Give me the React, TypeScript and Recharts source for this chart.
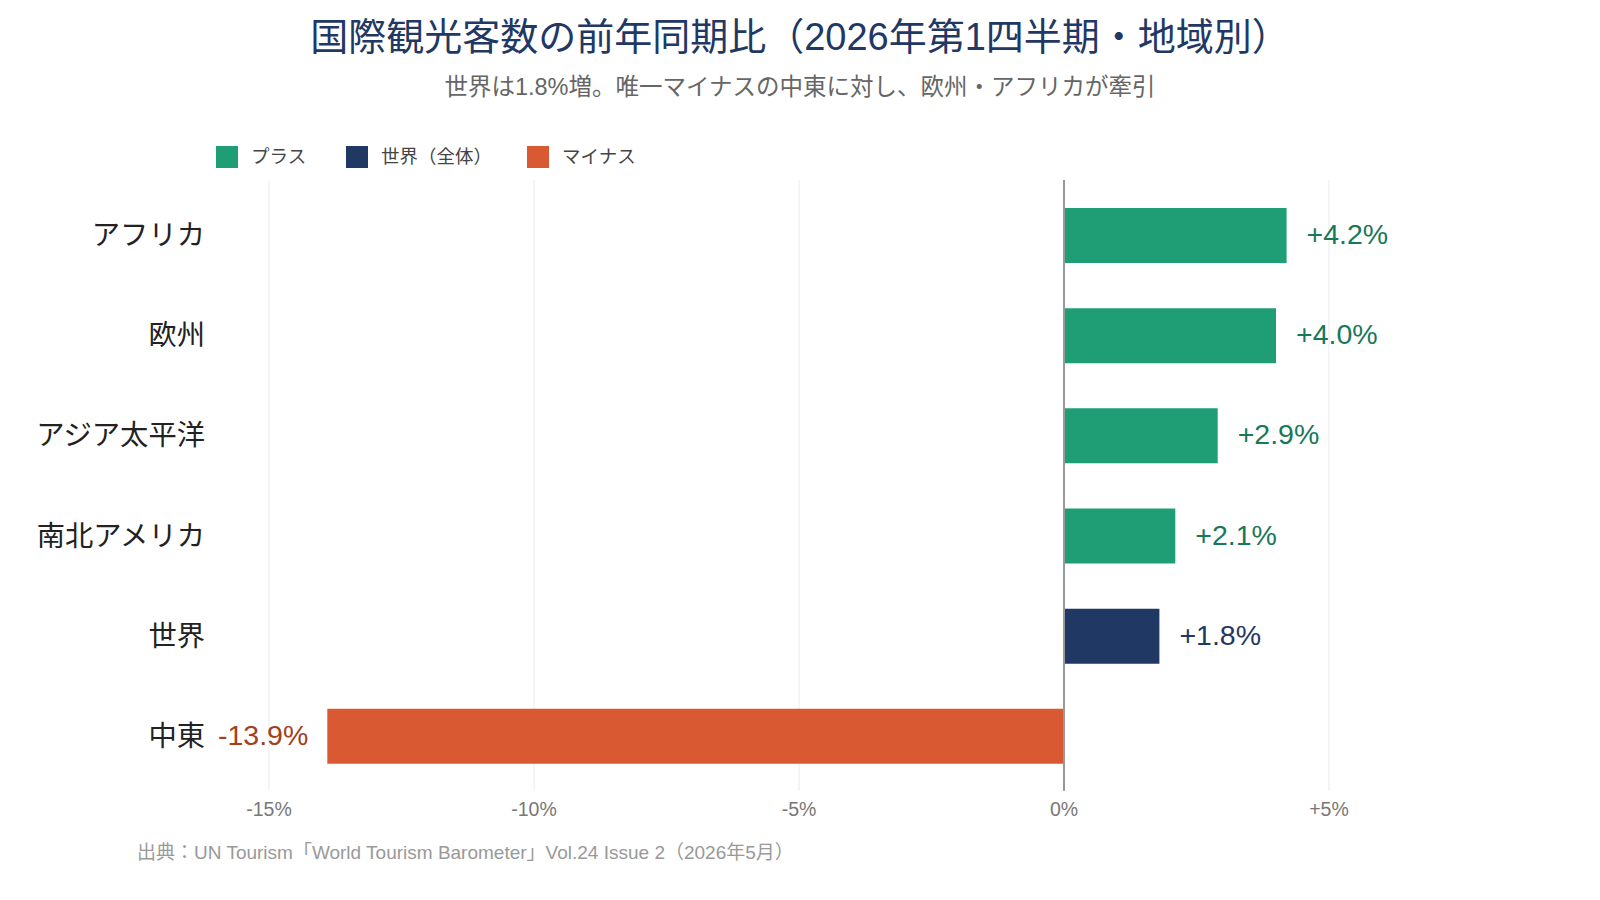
import { Bar, BarChart, CartesianGrid, Cell, LabelList, ReferenceLine, XAxis, YAxis } from "recharts";

const regions = ["アフリカ", "欧州", "アジア太平洋", "南北アメリカ", "世界", "中東"];
const changes = [4.2, 4.0, 2.9, 2.1, 1.8, -13.9];
const kinds = ["plus", "plus", "plus", "plus", "world", "minus"];
const xTicks = [-15, -10, -5, 0, 5];

const FONT = '"Liberation Sans", "Noto Sans CJK JP", sans-serif';

const barColor: Record<string, string> = {
  plus: "#1f9e76",
  world: "#1f3864",
  minus: "#d95a32",
};
const labelColor: Record<string, string> = {
  plus: "#17785a",
  world: "#1f3864",
  minus: "#a3401c",
};

const legendItems = [
  { key: "plus", label: "プラス", left: 216 },
  { key: "world", label: "世界（全体）", left: 346 },
  { key: "minus", label: "マイナス", left: 527 },
];

const data = regions.map((name, i) => ({ name, value: changes[i], kind: kinds[i] }));

const fmtTick = (v: number) => (v > 0 ? `+${v}%` : `${v}%`);
const fmtValue = (v: number) => (v > 0 ? `+${v.toFixed(1)}%` : `${v.toFixed(1)}%`);

const YTick = ({ x, y, payload }: any) => (
  <text x={x} y={y} textAnchor="end" dominantBaseline="central" fontSize={28.3} fill="#222" fontFamily={FONT}>
    {payload.value}
  </text>
);

const XTick = ({ x, y, payload }: any) => (
  <text x={x} y={y + 18} textAnchor="middle" dominantBaseline="central" fontSize={19.5} fill="#777" fontFamily={FONT}>
    {fmtTick(payload.value)}
  </text>
);

const ValueLabel = ({ x, y, width, height, value, index }: any) => {
  const left = Math.min(x, x + width);
  const right = Math.max(x, x + width);
  const neg = value < 0;
  return (
    <text
      x={neg ? left - 19 : right + 20}
      y={y + height / 2 - 1.5}
      textAnchor={neg ? "end" : "start"}
      dominantBaseline="central"
      fontSize={28.5}
      fill={labelColor[data[index].kind]}
      fontFamily={FONT}
    >
      {fmtValue(value)}
    </text>
  );
};

export default function App() {
  return (
    <div style={{ position: "absolute", top: 0, left: 0, width: 1600, height: 900, background: "#fff", fontFamily: FONT }}>
      <div style={{ position: "absolute", top: 12, left: 0, width: 1600, textAlign: "center", fontSize: 38, fontWeight: 400, color: "#1f3864", lineHeight: "50px" }}>
        国際観光客数の前年同期比（2026年第1四半期・地域別）
      </div>
      <div style={{ position: "absolute", top: 71, left: 0, width: 1600, textAlign: "center", fontSize: 23.5, color: "#666", lineHeight: "32px" }}>
        世界は1.8%増。唯一マイナスの中東に対し、欧州・アフリカが牽引
      </div>

      {legendItems.map((it) => (
        <div key={it.key} style={{ position: "absolute", top: 146, left: it.left, display: "flex", alignItems: "center", height: 22 }}>
          <span style={{ width: 22, height: 22, background: barColor[it.key], display: "inline-block" }} />
          <span style={{ marginLeft: 13, fontSize: 18.5, color: "#444", position: "relative", top: -2 }}>{it.label}</span>
        </div>
      ))}

      <BarChart
        width={1600}
        height={900}
        data={data}
        layout="vertical"
        margin={{ top: 180, right: 218, bottom: 69, left: 0 }}
        barSize={55}
      >
        <CartesianGrid horizontal={false} syncWithTicks stroke="#ebebeb" strokeWidth={1} />
        <XAxis
          type="number"
          domain={[-16, 6]}
          ticks={xTicks}
          axisLine={false}
          tickLine={false}
          tickSize={0}
          tickMargin={0}
          height={40}
          tick={<XTick />}
          allowDataOverflow
        />
        <YAxis
          type="category"
          dataKey="name"
          width={216}
          axisLine={false}
          tickLine={false}
          tickSize={0}
          tickMargin={11}
          padding={{ top: 5, bottom: 5 }}
          tick={<YTick />}
        />
        <ReferenceLine x={0} stroke="#999" strokeWidth={2} />
        <Bar dataKey="value" isAnimationActive={false}>
          {data.map((d, i) => (
            <Cell key={`cell-${i}`} fill={barColor[d.kind]} />
          ))}
          <LabelList dataKey="value" content={<ValueLabel />} />
        </Bar>
      </BarChart>

      <div style={{ position: "absolute", top: 842, left: 137, fontSize: 19, color: "#999", lineHeight: "22px" }}>
        出典：UN Tourism「World Tourism Barometer」Vol.24 Issue 2（2026年5月）
      </div>
    </div>
  );
}
